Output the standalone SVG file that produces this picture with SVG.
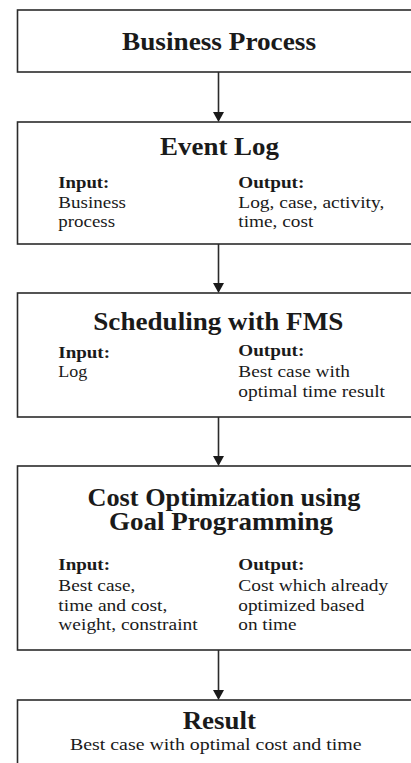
<svg xmlns="http://www.w3.org/2000/svg" width="411" height="763" viewBox="0 0 411 763">
<style>
.box{fill:#fff;stroke:#2b2b2b;stroke-width:1.6}
.t{font-family:"Liberation Serif","Times New Roman",serif;font-weight:bold;font-size:25px;fill:#1a1a1a;text-anchor:middle}
.b{font-family:"Liberation Serif","Times New Roman",serif;font-size:17.5px;fill:#1a1a1a}
.h{font-family:"Liberation Serif","Times New Roman",serif;font-weight:bold;font-size:17.5px;fill:#1a1a1a}
.c{stroke:#2b2b2b;stroke-width:1.6;fill:none}
.a{fill:#1a1a1a}
</style>
<rect width="411" height="763" fill="#fff"/>
<g id="connectors">
<line class="c" x1="218.5" y1="72" x2="218.5" y2="113"/><polygon class="a" points="213,112 224,112 218.5,122"/>
<line class="c" x1="218.5" y1="244" x2="218.5" y2="284"/><polygon class="a" points="213,283 224,283 218.5,293"/>
<line class="c" x1="218.5" y1="417" x2="218.5" y2="457"/><polygon class="a" points="213,456 224,456 218.5,466"/>
<line class="c" x1="218.5" y1="650" x2="218.5" y2="691"/><polygon class="a" points="213,690 224,690 218.5,700"/>
</g>
<g id="business-process">
<rect class="box" x="17.5" y="10" width="420" height="62"/>
<text class="t" x="219" y="50" textLength="194" lengthAdjust="spacingAndGlyphs">Business Process</text>
</g>
<g id="event-log">
<rect class="box" x="17.5" y="122" width="420" height="122"/>
<text class="t" x="219.5" y="155" textLength="119" lengthAdjust="spacingAndGlyphs">Event Log</text>
<text class="h" x="58.3" y="188" textLength="51" lengthAdjust="spacingAndGlyphs">Input:</text>
<text class="b" x="58.3" y="208" textLength="67.7" lengthAdjust="spacingAndGlyphs">Business</text>
<text class="b" x="58.3" y="227" textLength="56.7" lengthAdjust="spacingAndGlyphs">process</text>
<text class="h" x="238.3" y="188" textLength="66" lengthAdjust="spacingAndGlyphs">Output:</text>
<text class="b" x="238.3" y="208" textLength="146" lengthAdjust="spacingAndGlyphs">Log, case, activity,</text>
<text class="b" x="238.3" y="227" textLength="75" lengthAdjust="spacingAndGlyphs">time, cost</text>
</g>
<g id="scheduling">
<rect class="box" x="17.5" y="293" width="420" height="124"/>
<text class="t" x="218.3" y="330" textLength="250" lengthAdjust="spacingAndGlyphs">Scheduling with FMS</text>
<text class="h" x="58.3" y="358" textLength="51.7" lengthAdjust="spacingAndGlyphs">Input:</text>
<text class="b" x="58.3" y="377" textLength="29" lengthAdjust="spacingAndGlyphs">Log</text>
<text class="h" x="238.3" y="356" textLength="66" lengthAdjust="spacingAndGlyphs">Output:</text>
<text class="b" x="238.3" y="377" textLength="111.7" lengthAdjust="spacingAndGlyphs">Best case with</text>
<text class="b" x="238.3" y="397" textLength="146.7" lengthAdjust="spacingAndGlyphs">optimal time result</text>
</g>
<g id="cost-optimization">
<rect class="box" x="17.5" y="466" width="420" height="184"/>
<text class="t" x="224" y="506" textLength="273" lengthAdjust="spacingAndGlyphs">Cost Optimization using</text>
<text class="t" x="221" y="530" textLength="224" lengthAdjust="spacingAndGlyphs">Goal Programming</text>
<text class="h" x="58.3" y="570" textLength="51.7" lengthAdjust="spacingAndGlyphs">Input:</text>
<text class="b" x="58.3" y="591" textLength="77" lengthAdjust="spacingAndGlyphs">Best case,</text>
<text class="b" x="58.3" y="611" textLength="109" lengthAdjust="spacingAndGlyphs">time and cost,</text>
<text class="b" x="58.3" y="630" textLength="139.4" lengthAdjust="spacingAndGlyphs">weight, constraint</text>
<text class="h" x="238.3" y="570" textLength="66" lengthAdjust="spacingAndGlyphs">Output:</text>
<text class="b" x="238.3" y="591" textLength="150" lengthAdjust="spacingAndGlyphs">Cost which already</text>
<text class="b" x="238.3" y="611" textLength="126" lengthAdjust="spacingAndGlyphs">optimized based</text>
<text class="b" x="238.3" y="630" textLength="58.3" lengthAdjust="spacingAndGlyphs">on time</text>
</g>
<g id="result">
<rect class="box" x="17.5" y="700" width="420" height="80"/>
<text class="t" x="219.3" y="729" textLength="73.3" lengthAdjust="spacingAndGlyphs">Result</text>
<text class="b" x="215.8" y="750" text-anchor="middle" textLength="291.7" lengthAdjust="spacingAndGlyphs">Best case with optimal cost and time</text>
</g>
</svg>
